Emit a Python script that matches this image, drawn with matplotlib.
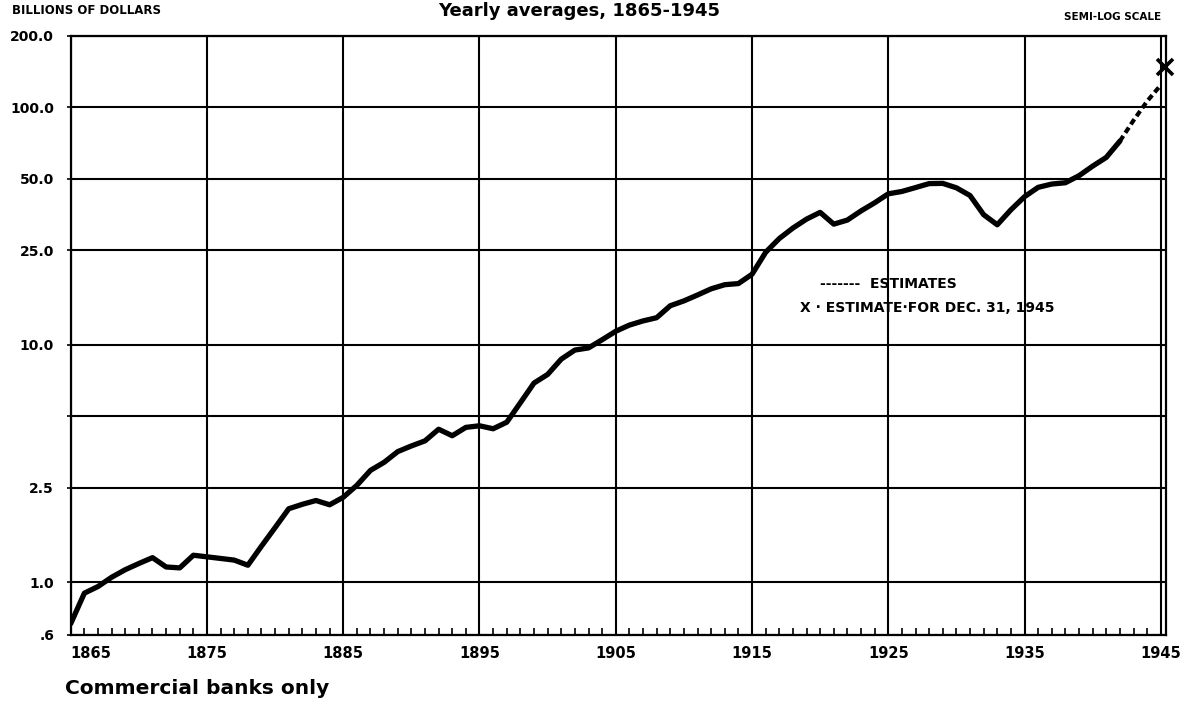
import matplotlib
matplotlib.use('Agg')
import matplotlib.pyplot as plt

# Deposits, commercial banks only, yearly averages (billions of dollars)
years = list(range(1865, 1943))
deposits = [0.67, 0.90, 0.96, 1.05, 1.13, 1.20, 1.27, 1.16, 1.15, 1.30,
            1.28, 1.26, 1.24, 1.18, 1.42, 1.70, 2.04, 2.13, 2.21, 2.12,
            2.28, 2.56, 2.96, 3.20, 3.55, 3.75, 3.94, 4.41, 4.14, 4.49,
            4.56, 4.43, 4.72, 5.70, 6.90, 7.50, 8.70, 9.50, 9.70, 10.5,
            11.4, 12.1, 12.6, 13.0, 14.6, 15.3, 16.2, 17.2, 17.9, 18.1,
            19.8, 24.5, 28.0, 31.0, 33.8, 36.1, 32.2, 33.5, 36.6, 39.6,
            43.2, 44.2, 45.9, 47.7, 47.8, 45.8, 42.5, 35.3, 32.0, 37.0,
            42.0, 46.0, 47.5, 48.1, 51.5, 56.5, 61.5, 72.0]

est_years = [1942, 1943, 1944, 1945]
est_deposits = [72.0, 88.0, 106.0, 124.0]

dec31_year = 1945.3
dec31_value = 148.0

y_ticks = [0.6, 1.0, 2.5, 5.0, 10.0, 25.0, 50.0, 100.0, 200.0]
y_labels = ['.6', '1.0', '2.5', '', '10.0', '25.0', '50.0', '100.0', '200.0']
x_ticks = list(range(1865, 1946, 10))

fig = plt.figure(figsize=(11.81, 7.05), dpi=100)
ax = fig.add_axes([0.0599, 0.0993, 0.927, 0.850])

ax.plot(years, deposits, color='black', lw=3.8,
        solid_joinstyle='round', solid_capstyle='round', zorder=3)
ax.plot(est_years, est_deposits, color='black', lw=3.0,
        linestyle=(0, (1.5, 0.9)), zorder=3)
ax.plot([dec31_year], [dec31_value], marker='x', color='black',
        markersize=11, mew=2.6, zorder=4, clip_on=False)

ax.set_yscale('log')
ax.set_ylim(0.6, 200)
ax.set_xlim(1865, 1945.35)

ax.set_yticks(y_ticks)
ax.set_yticklabels(y_labels)
ax.minorticks_off()
ax.set_xticks(x_ticks)
ax.set_xticks([y for y in range(1866, 1946) if y % 10 != 5], minor=True)
ax.set_xticklabels([str(x) for x in x_ticks])

ax.grid(True, which='major', color='black', lw=1.5)
for s in ax.spines.values():
    s.set_linewidth(1.6)

ax.tick_params(axis='y', which='major', direction='out', length=3,
               width=1.2, pad=9, labelsize=10)
ax.tick_params(axis='x', which='major', length=0, pad=8, labelsize=10.5)
ax.tick_params(axis='x', which='minor', direction='in', length=5, width=1.2)
for lab in ax.get_yticklabels() + ax.get_xticklabels():
    lab.set_fontweight('bold')
ax.get_xticklabels()[0].set_horizontalalignment('left')

fig.text(0.49, 0.997, 'Yearly averages, 1865-1945', ha='center',
         va='top', fontsize=13, fontweight='bold')
fig.text(0.010, 0.985, 'BILLIONS OF DOLLARS', ha='left', va='center',
         fontsize=8.5, fontweight='bold')
fig.text(0.983, 0.976, 'SEMI-LOG SCALE', ha='right', va='center',
         fontsize=7.5, fontweight='bold')
fig.text(0.694, 0.597, '-------  ESTIMATES', ha='left', va='center',
         fontsize=10, fontweight='bold')
fig.text(0.677, 0.563, 'X · ESTIMATE·FOR DEC. 31, 1945', ha='left',
         va='center', fontsize=10, fontweight='bold')
fig.text(0.055, 0.024, 'Commercial banks only', ha='left', va='center',
         fontsize=14.5, fontweight='bold')

fig.savefig('out.png', dpi=100)
